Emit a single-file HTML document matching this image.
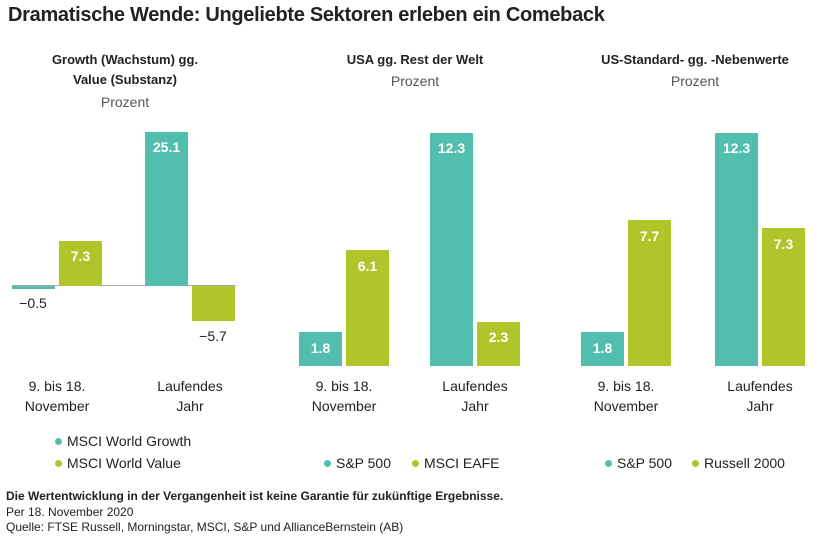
<!DOCTYPE html>
<html><head><meta charset="utf-8"><style>
body{margin:0;width:840px;height:536px;background:#fff;position:relative;font-family:"Liberation Sans",sans-serif;color:#222;overflow:hidden}
div{position:absolute}
.t{font-weight:bold;font-size:13px;text-align:center;line-height:20px}
.s{font-size:14px;color:#555;text-align:center}
.b{}
.T{background:#52bfae}.G{background:#afc52a}
.v{color:#fff;font-weight:bold;font-size:14px;text-align:center;width:43px}
.n{font-size:14px;color:#222;text-align:center;width:60px}
.c{font-size:14px;text-align:center;line-height:20px;color:#222}
.l{font-size:14px;color:#222;white-space:nowrap}
.d{width:7px;height:7px;border-radius:50%}
</style></head><body>
<div style="left:8px;top:4px;font-size:20px;font-weight:bold;color:#222;letter-spacing:-0.3px">Dramatische Wende: Ungeliebte Sektoren erleben ein Comeback</div>

<div class="t" style="left:0;top:50px;width:250px">Growth (Wachstum) gg.<br>Value (Substanz)</div>
<div class="s" style="left:0;top:94px;width:250px">Prozent</div>
<div class="t" style="left:290px;top:50px;width:250px">USA gg. Rest der Welt</div>
<div class="s" style="left:290px;top:73px;width:250px">Prozent</div>
<div class="t" style="left:570px;top:50px;width:250px">US-Standard- gg. -Nebenwerte</div>
<div class="s" style="left:570px;top:73px;width:250px">Prozent</div>

<!-- panel 1 -->
<div style="left:12px;top:285px;width:224px;height:1px;background:#aaa"></div>
<div class="T" style="left:12px;top:286px;width:43px;height:3px"></div>
<div class="G" style="left:59px;top:241px;width:43px;height:45px"></div>
<div class="T" style="left:145px;top:132px;width:43px;height:154px"></div>
<div class="G" style="left:192px;top:286px;width:43px;height:35px"></div>
<div class="v" style="left:59px;top:248px">7.3</div>
<div class="v" style="left:145px;top:139px">25.1</div>
<div class="n" style="left:3px;top:295px">−0.5</div>
<div class="n" style="left:183px;top:328px">−5.7</div>
<div class="c" style="left:12px;top:376px;width:90px">9. bis 18.<br>November</div>
<div class="c" style="left:140px;top:376px;width:100px">Laufendes<br>Jahr</div>

<!-- panel 2 -->
<div class="T" style="left:299px;top:332px;width:43px;height:34px"></div>
<div class="G" style="left:346px;top:250px;width:43px;height:116px"></div>
<div class="T" style="left:430px;top:133px;width:43px;height:233px"></div>
<div class="G" style="left:477px;top:322px;width:43px;height:44px"></div>
<div class="v" style="left:299px;top:340px">1.8</div>
<div class="v" style="left:346px;top:258px">6.1</div>
<div class="v" style="left:430px;top:140px">12.3</div>
<div class="v" style="left:477px;top:329px">2.3</div>
<div class="c" style="left:297px;top:376px;width:94px">9. bis 18.<br>November</div>
<div class="c" style="left:425px;top:376px;width:100px">Laufendes<br>Jahr</div>

<!-- panel 3 -->
<div class="T" style="left:581px;top:332px;width:43px;height:34px"></div>
<div class="G" style="left:628px;top:220px;width:43px;height:146px"></div>
<div class="T" style="left:715px;top:133px;width:43px;height:233px"></div>
<div class="G" style="left:762px;top:228px;width:43px;height:138px"></div>
<div class="v" style="left:581px;top:340px">1.8</div>
<div class="v" style="left:628px;top:228px">7.7</div>
<div class="v" style="left:715px;top:140px">12.3</div>
<div class="v" style="left:762px;top:236px">7.3</div>
<div class="c" style="left:579px;top:376px;width:94px">9. bis 18.<br>November</div>
<div class="c" style="left:710px;top:376px;width:100px">Laufendes<br>Jahr</div>

<!-- legends -->
<div class="d T" style="left:55px;top:438px"></div><div class="l" style="left:67px;top:433px">MSCI World Growth</div>
<div class="d G" style="left:55px;top:460px"></div><div class="l" style="left:67px;top:455px">MSCI World Value</div>
<div class="d T" style="left:324px;top:460px"></div><div class="l" style="left:336px;top:455px">S&amp;P 500</div>
<div class="d G" style="left:412px;top:460px"></div><div class="l" style="left:424px;top:455px">MSCI EAFE</div>
<div class="d T" style="left:605px;top:460px"></div><div class="l" style="left:617px;top:455px">S&amp;P 500</div>
<div class="d G" style="left:692px;top:460px"></div><div class="l" style="left:704px;top:455px">Russell 2000</div>

<div style="left:6px;top:489px;font-size:12px;font-weight:bold;color:#222">Die Wertentwicklung in der Vergangenheit ist keine Garantie für zukünftige Ergebnisse.</div>
<div style="left:6px;top:505px;font-size:12px;color:#222">Per 18. November 2020</div>
<div style="left:6px;top:520px;font-size:12px;color:#222">Quelle: FTSE Russell, Morningstar, MSCI, S&amp;P und AllianceBernstein (AB)</div>
</body></html>
